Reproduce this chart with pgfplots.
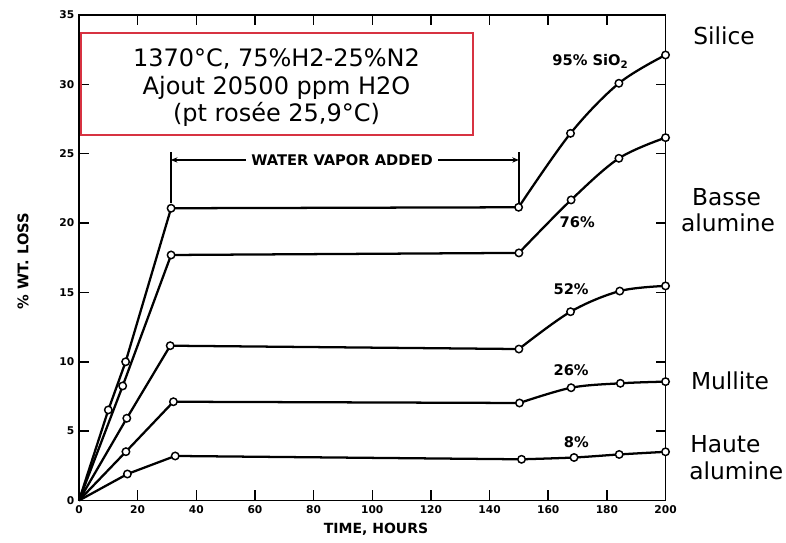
\documentclass[border=0pt]{standalone}
\usepackage{pgfplots}
\pgfplotsset{compat=1.18}
\usepackage{fontspec}
\setmainfont{DejaVu Sans}
\usetikzlibrary{arrows.meta}
\definecolor{boxred}{RGB}{215,50,65}
\begin{document}
\begin{tikzpicture}
\useasboundingbox (0pt,0pt) rectangle (589.5pt,407.25pt);
\begin{axis}[
  at={(59.25pt,31.875pt)}, anchor=south west,
  scale only axis, width=439.9pt, height=364.1pt,
  xmin=0, xmax=200, ymin=0, ymax=35,
  xtick={0,20,...,200}, ytick={0,5,...,35},
  tick align=inside, xtick pos=both, ytick pos=both,
  xticklabel pos=bottom, yticklabel pos=left,
  major tick length=7.5pt,
  axis line style={line width=1.3pt},
  every tick/.style={line width=1.1pt, black},
  /pgf/number format/assume math mode=true,
  ticklabel style={font=\bfseries\fontsize{8}{9}\selectfont},
  clip=false,
  ln/.style={black, line width=1.7pt, mark=none},
  pts/.style={only marks, mark=*, mark size=2.8pt, mark options={fill=white, draw=black, line width=1.1pt}},
]
% 95% SiO2
\addplot[ln, sharp plot] coordinates {(0,0)(10,6.53)(15.9,10.0)(31.4,21.07)(149.9,21.14)};
\addplot[ln, smooth, tension=0.55] coordinates {(149.9,21.14)(167.6,26.47)(184.1,30.08)(200,32.12)};
% 76%
\addplot[ln, sharp plot] coordinates {(0,0)(14.9,8.26)(31.4,17.7)(150,17.85)};
\addplot[ln, smooth, tension=0.55] coordinates {(150,17.85)(167.8,21.67)(184.1,24.67)(200,26.16)};
% 52%
\addplot[ln, sharp plot] coordinates {(0,0)(16.3,5.93)(31.1,11.16)(150,10.92)};
\addplot[ln, smooth, tension=0.55] coordinates {(150,10.92)(167.6,13.61)(184.4,15.1)(200,15.47)};
% 26%
\addplot[ln, sharp plot] coordinates {(0,0)(16.0,3.52)(32.2,7.12)(150.2,7.03)};
\addplot[ln, smooth, tension=0.55] coordinates {(150.2,7.03)(167.8,8.13)(184.6,8.45)(200,8.57)};
% 8%
\addplot[ln, sharp plot] coordinates {(0,0)(16.5,1.91)(32.8,3.21)(150.9,2.97)};
\addplot[ln, smooth, tension=0.55] coordinates {(150.9,2.97)(168.8,3.10)(184.2,3.32)(200,3.51)};
% markers
\addplot[pts] coordinates {(10,6.53)(15.9,10.0)(31.4,21.07)(149.9,21.14)(167.6,26.47)(184.1,30.08)(200,32.12)};
\addplot[pts] coordinates {(14.9,8.26)(31.4,17.7)(150,17.85)(167.8,21.67)(184.1,24.67)(200,26.16)};
\addplot[pts] coordinates {(16.3,5.93)(31.1,11.16)(150,10.92)(167.6,13.61)(184.4,15.1)(200,15.47)};
\addplot[pts] coordinates {(16.0,3.52)(32.2,7.12)(150.2,7.03)(167.8,8.13)(184.6,8.45)(200,8.57)};
\addplot[pts] coordinates {(16.5,1.91)(32.8,3.21)(150.9,2.97)(168.8,3.10)(184.2,3.32)(200,3.51)};
% water vapor annotation
\draw[line width=1.1pt] (axis cs:31.3,21.45) -- (axis cs:31.3,25.15);
\draw[line width=1.1pt] (axis cs:150,21.45) -- (axis cs:150,25.15);
\draw[line width=1.1pt, {Stealth[length=5pt,width=4pt]}-{Stealth[length=5pt,width=4pt]}] (axis cs:31.3,24.55) -- (axis cs:150,24.55);
\node[fill=white, inner xsep=4pt, inner ysep=1pt, font=\bfseries\fontsize{11}{13}\selectfont] at (axis cs:89.7,24.55) {WATER VAPOR ADDED};
% series labels
\node[font=\bfseries\fontsize{11}{13}\selectfont] at (axis cs:174.4,31.64) {95\% SiO\textsubscript{2}};
\node[font=\bfseries\fontsize{11}{13}\selectfont] at (axis cs:169.9,20.1) {76\%};
\node[font=\bfseries\fontsize{11}{13}\selectfont] at (axis cs:167.8,15.23) {52\%};
\node[font=\bfseries\fontsize{11}{13}\selectfont] at (axis cs:167.8,9.41) {26\%};
\node[font=\bfseries\fontsize{11}{13}\selectfont] at (axis cs:169.6,4.22) {8\%};
\end{axis}
% axis titles
\node[rotate=90, font=\bfseries\fontsize{11}{13}\selectfont] at (17.25pt,211.5pt) {\% WT. LOSS};
\node[font=\bfseries\fontsize{10.5}{12}\selectfont] at (282pt,10.5pt) {TIME, HOURS};
% red box
\draw[boxred, line width=1.3pt] (60.5pt,382.3pt) rectangle (354.5pt,306pt);
\node[anchor=base, font=\fontsize{18}{20}\selectfont] at (207.4pt,357.5pt) {1370°C, 75\%H2-25\%N2};
\node[anchor=base, font=\fontsize{18}{20}\selectfont] at (207.4pt,336.5pt) {Ajout 20500 ppm H2O};
\node[anchor=base, font=\fontsize{18}{20}\selectfont] at (207.4pt,316pt) {(pt rosée 25,9°C)};
% right labels
\node[anchor=base, font=\fontsize{17.5}{20}\selectfont] at (543pt,373.5pt) {Silice};
\node[anchor=base, font=\fontsize{17.5}{20}\selectfont] at (544.9pt,252.75pt) {Basse};
\node[anchor=base, font=\fontsize{17.5}{20}\selectfont] at (546pt,233.5pt) {alumine};
\node[anchor=base, font=\fontsize{17.5}{20}\selectfont] at (547.5pt,115.3pt) {Mullite};
\node[anchor=base west, font=\fontsize{17.5}{20}\selectfont, inner sep=0pt] at (517.5pt,67.5pt) {Haute};
\node[anchor=base west, font=\fontsize{17.5}{20}\selectfont, inner sep=0pt] at (516.75pt,47.25pt) {alumine};
\end{tikzpicture}
\end{document}
